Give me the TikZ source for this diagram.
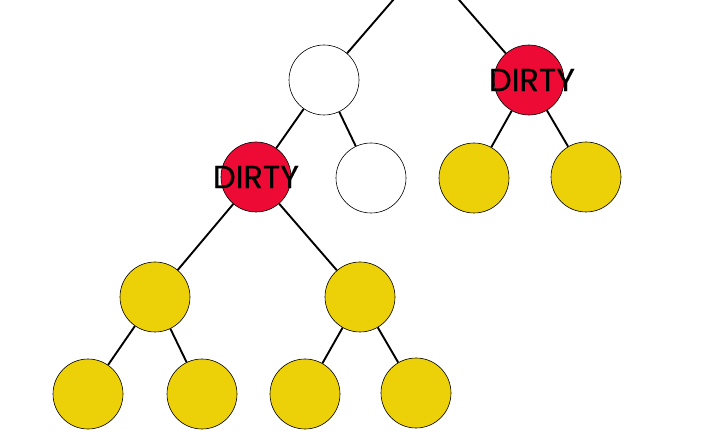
\documentclass[tikz,border=0pt]{standalone}
\usepackage{fontspec}
\setmainfont{Poppins}
\newfontfamily\lblfont[FakeBold=0.5]{Poppins}
\definecolor{dirtyred}{RGB}{237,10,52}
\definecolor{cleanyellow}{RGB}{236,208,8}
\begin{document}
\begin{tikzpicture}[x=1pt,y=-1pt,
  tnode/.style={circle,draw=black,line width=0.6pt,minimum size=70pt,inner sep=0pt},
  whitenode/.style={tnode,fill=white},
  rednode/.style={tnode,fill=dirtyred},
  yellownode/.style={tnode,fill=cleanyellow},
  edge/.style={line width=1.9pt,black},
  lbl/.style={font=\lblfont\fontsize{32}{32}\selectfont,text=black}]
\useasboundingbox (0,0) rectangle (720,443);
\clip (0,0) rectangle (720,443);
\coordinate (P) at (426,-38);
\node[whitenode] (A) at (324,80) {};
\node[rednode] (B) at (529,80) {};
\node[rednode] (C) at (256,177) {};
\node[whitenode] (D) at (371,178) {};
\node[yellownode] (E) at (474,178) {};
\node[yellownode] (F) at (586,177) {};
\node[yellownode] (G) at (155,297) {};
\node[yellownode] (H) at (360,297) {};
\node[yellownode] (I) at (88,394) {};
\node[yellownode] (J) at (202,394) {};
\node[yellownode] (K) at (305,394) {};
\node[yellownode] (L) at (416,393) {};
\draw[edge] (P) -- (A);
\draw[edge] (P) -- (B);
\draw[edge] (A) -- (C);
\draw[edge] (A) -- (D);
\draw[edge] (B) -- (E);
\draw[edge] (B) -- (F);
\draw[edge] (C) -- (G);
\draw[edge] (C) -- (H);
\draw[edge] (G) -- (I);
\draw[edge] (G) -- (J);
\draw[edge] (H) -- (K);
\draw[edge] (H) -- (L);
\node[lbl] (BL) at ([xshift=3pt]B.center) {DIRTY};
\node[lbl] (CL) at (C.center) {DIRTY};
\end{tikzpicture}
\end{document}
